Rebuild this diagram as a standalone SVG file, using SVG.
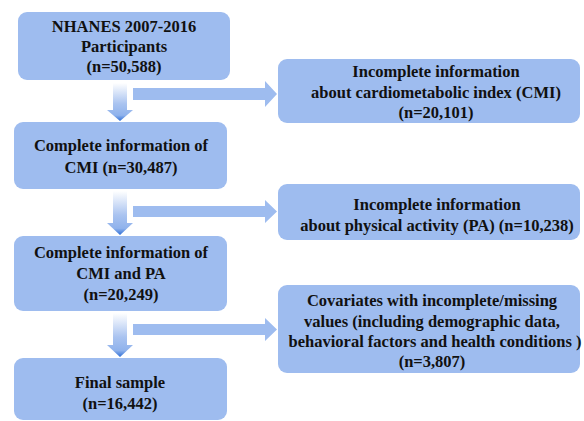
<svg xmlns="http://www.w3.org/2000/svg" width="584" height="421" viewBox="0 0 584 421">
  <defs>
    <style>
      .box { fill: #9ebcef; }
      .ra { fill: #9ebcef; }
      text { font-family: 'Liberation Serif', 'Times New Roman', 'DejaVu Serif', serif; font-weight: 700; font-size: 16.5px; fill: #111111; text-anchor: middle; }
    </style>
    <linearGradient id="dg" x1="0" y1="0" x2="0" y2="1">
      <stop offset="0" stop-color="#ffffff"/>
      <stop offset="0.55" stop-color="#a9c3f0"/>
      <stop offset="0.85" stop-color="#8fb2ec"/>
      <stop offset="1" stop-color="#2f6fd6"/>
    </linearGradient>
  </defs>
  <rect width="584" height="421" fill="#ffffff"/>
  <g id="connectors">
    <path d="M113,83 H127 V110 H133 L120,121 L107,110 H113 Z" fill="url(#dg)"/>
    <path d="M113,191 H127 V223 H133 L120,235 L107,223 H113 Z" fill="url(#dg)"/>
    <path d="M113,313 H127 V345 H133 L120,357 L107,345 H113 Z" fill="url(#dg)"/>
    <path class="ra" d="M133,88 H265 V81 L277,94 L265,107 V100 H133 Z"/>
    <path class="ra" d="M133,206 H265 V200 L277,211.5 L265,223 V217 H133 Z"/>
    <path class="ra" d="M133,324 H265 V318 L277,329.5 L265,341 V335 H133 Z"/>
  </g>
  <g id="n1">
    <rect class="box" x="18" y="12" width="212" height="68" rx="9"/>
    <text x="124" y="32">NHANES 2007-2016</text>
    <text x="124" y="52">Participants</text>
    <text x="124" y="72">(n=50,588)</text>
  </g>
  <g id="n2">
    <rect class="box" x="278" y="59" width="302" height="64" rx="9"/>
    <text x="436" y="77">Incomplete information</text>
    <text x="436" y="98">about cardiometabolic index (CMI)</text>
    <text x="436" y="118">(n=20,101)</text>
  </g>
  <g id="n3">
    <rect class="box" x="14" y="122" width="213" height="67" rx="9"/>
    <text x="121" y="151">Complete information of</text>
    <text x="121" y="173">CMI (n=30,487)</text>
  </g>
  <g id="n4">
    <rect class="box" x="278" y="184" width="302" height="56" rx="9"/>
    <text x="437" y="210">Incomplete information</text>
    <text x="437" y="231">about physical activity (PA) (n=10,238)</text>
  </g>
  <g id="n5">
    <rect class="box" x="14" y="236" width="213" height="75" rx="9"/>
    <text x="121" y="258">Complete information of</text>
    <text x="121" y="279">CMI and PA</text>
    <text x="121" y="300">(n=20,249)</text>
  </g>
  <g id="n6">
    <rect class="box" x="278" y="285" width="302" height="88" rx="9"/>
    <text x="432" y="306">Covariates with incomplete/missing</text>
    <text x="432" y="327">values (including demographic data,</text>
    <text x="435" y="347">behavioral factors and health conditions )</text>
    <text x="432" y="367">(n=3,807)</text>
  </g>
  <g id="n7">
    <rect class="box" x="14" y="358" width="213" height="62" rx="9"/>
    <text x="120" y="388">Final sample</text>
    <text x="120" y="409">(n=16,442)</text>
  </g>
</svg>
